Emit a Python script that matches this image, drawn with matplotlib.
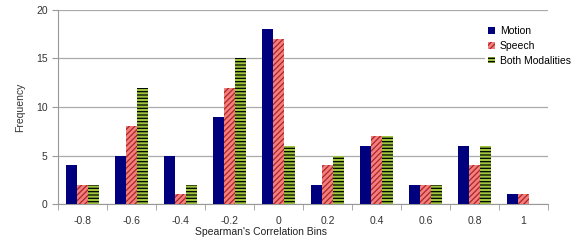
import matplotlib
matplotlib.use("Agg")
import matplotlib.pyplot as plt
import numpy as np

# bins and counts
bins = ["-0.8", "-0.6", "-0.4", "-0.2", "0", "0.2", "0.4", "0.6", "0.8", "1"]
motion = [4, 5, 5, 9, 18, 2, 6, 2, 6, 1]
speech = [2, 8, 1, 12, 17, 4, 7, 2, 4, 1]
both = [2, 12, 2, 15, 6, 5, 7, 2, 6, 0]

plt.rcParams["font.family"] = ["Liberation Sans", "DejaVu Sans"]
plt.rcParams["font.size"] = 7.5
plt.rcParams["hatch.linewidth"] = 0.9

fig = plt.figure(figsize=(5.88, 2.48), dpi=100)
ax = fig.add_axes([58 / 588, 1 - 204 / 248, 490 / 588, 194 / 248])

x = np.arange(len(bins))
w = 0.225
ax.bar(x - w, motion, w, color="#00007f", linewidth=0, label="Motion", zorder=3)
ax.bar(x, speech, w, color="#f08080", edgecolor="#b22222", hatch="//////",
       linewidth=0, label="Speech", zorder=3)
ax.bar(x + w, both, w, color="#9cc43c", edgecolor="black", hatch="-----",
       linewidth=0, label="Both Modalities", zorder=3)

ax.set_xlim(-0.5, len(bins) - 0.5)
ax.set_ylim(0, 20)
ax.set_yticks([0, 5, 10, 15, 20])
ax.set_xticks(x)
ax.set_xticklabels(bins)
ax.set_xticks(np.arange(-0.5, len(bins), 1), minor=True)
ax.tick_params(axis="x", which="major", length=0, pad=9, colors="#333333")
ax.tick_params(axis="x", which="minor", length=4, color="#999999")
ax.tick_params(axis="y", length=4, color="#999999", colors="#333333")
ax.grid(axis="y", color="#aaaaaa", linewidth=0.9, zorder=0)
for s in ["top", "right"]:
    ax.spines[s].set_visible(False)
for s in ["left", "bottom"]:
    ax.spines[s].set_color("#999999")

ax.set_ylabel("Frequency", color="#333333", labelpad=8)
fig.text(261 / 588, 1 - 232 / 248, "Spearman's Correlation Bins",
         ha="center", va="center", color="#222222")

leg = fig.legend(loc="upper left", bbox_to_anchor=(480 / 588, 1 - 18 / 248),
                 frameon=True, framealpha=1, edgecolor="white",
                 handlelength=0.6, handleheight=0.6, handletextpad=0.5,
                 labelspacing=0.45, borderpad=0.3)
leg.get_frame().set_linewidth(0)

fig.savefig("out.png", dpi=100)
